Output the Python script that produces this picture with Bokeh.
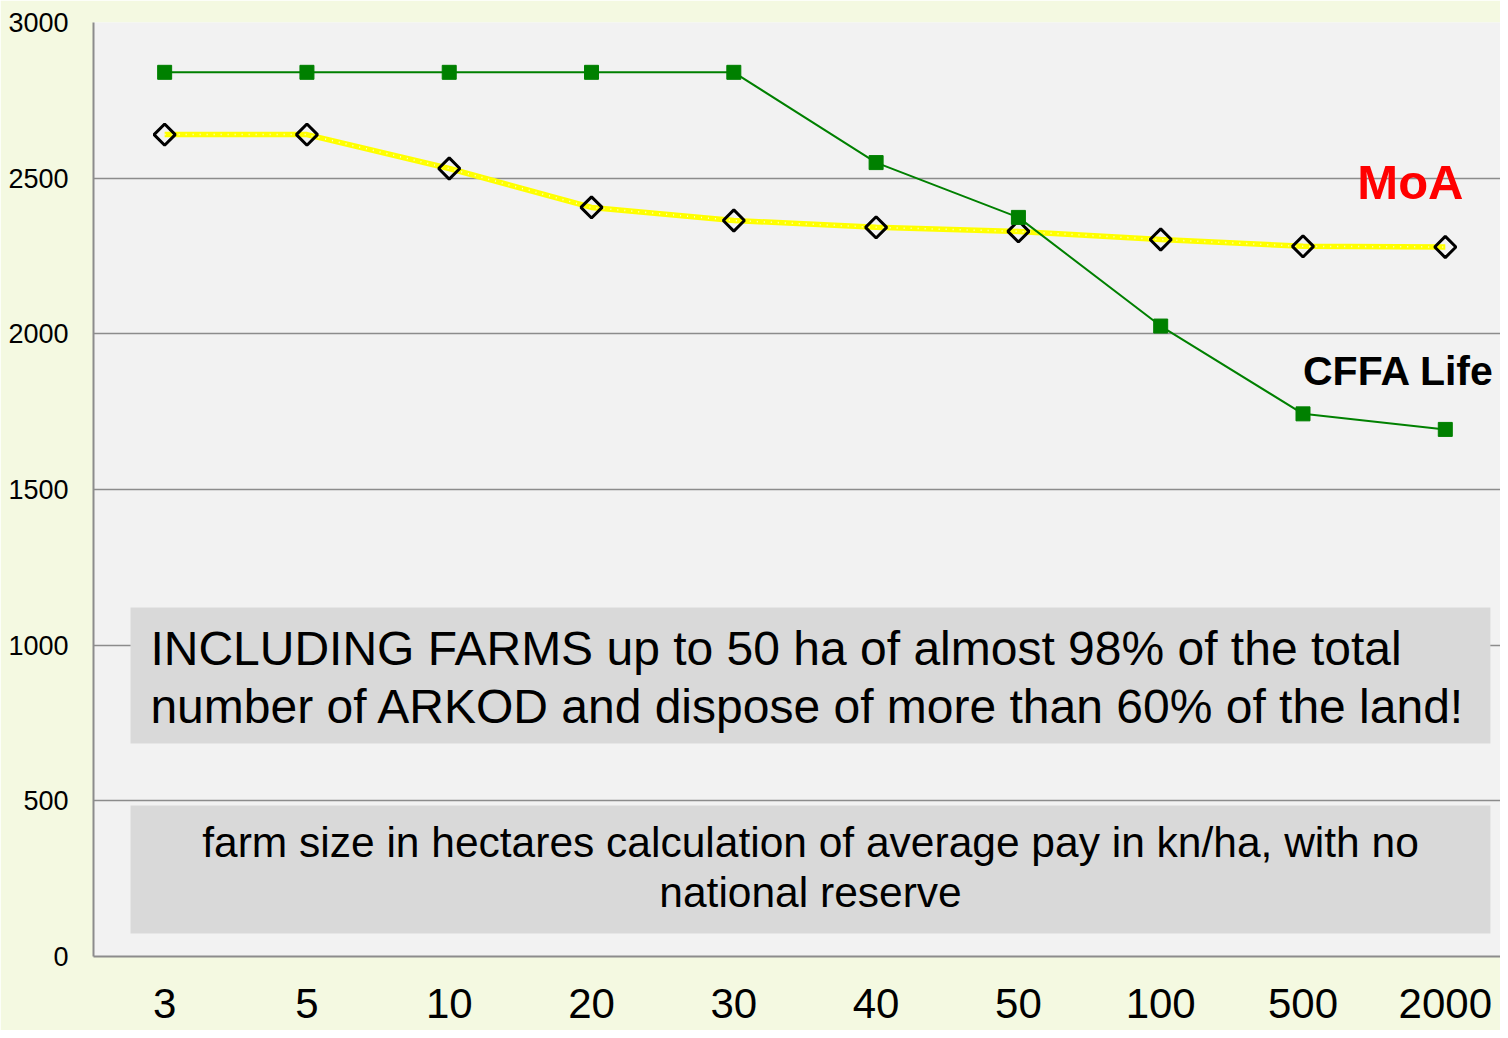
import math
from bokeh.plotting import figure
from bokeh.models import Range1d, FixedTicker, BoxAnnotation, Label, ColumnDataSource
from bokeh.embed import file_html
from bokeh.resources import INLINE

# ---- data ----
farm_sizes = ["3", "5", "10", "20", "30", "40", "50", "100", "500", "2000"]
cffa_values = [2840, 2840, 2840, 2840, 2840, 2550, 2374, 2025, 1743, 1693]   # green squares
moa_values = [2640, 2640, 2531, 2406, 2364, 2342, 2329, 2303, 2281, 2279]    # yellow line, diamonds
y_ticks = [0, 500, 1000, 1500, 2000, 2500, 3000]

idx = list(range(len(farm_sizes)))
src_g = ColumnDataSource(dict(x=idx, y=cffa_values))
src_y = ColumnDataSource(dict(x=idx, y=moa_values))

FONT = "Liberation Sans"

p = figure(width=1500, height=1030,
           x_range=Range1d(-0.5, 9.388), y_range=Range1d(0, 3000),
           output_backend="svg", toolbar_location=None,
           min_border_left=93, min_border_top=22, min_border_right=0, min_border_bottom=74)
p.border_fill_color = "#f4f9e1"
p.background_fill_color = "#f2f2f2"
p.outline_line_color = None

# axes
p.xaxis.ticker = FixedTicker(ticks=idx)
p.xaxis.major_label_overrides = {i: s for i, s in zip(idx, farm_sizes)}
p.xaxis.major_label_text_font = FONT
p.xaxis.major_label_text_font_size = "42px"
p.xaxis.major_label_text_color = "black"
p.xaxis.major_label_standoff = 32
p.xaxis.major_tick_out = 0
p.xaxis.major_tick_in = 0
p.xaxis.minor_tick_out = 0
p.xaxis.minor_tick_in = 0
p.xaxis.axis_line_color = "#8c8c8c"
p.xaxis.axis_line_width = 2

p.yaxis.ticker = FixedTicker(ticks=y_ticks)
p.yaxis.major_label_text_font = FONT
p.yaxis.major_label_text_font_size = "27px"
p.yaxis.major_label_text_color = "black"
p.yaxis.major_label_standoff = 25
p.yaxis.major_tick_out = 0
p.yaxis.major_tick_in = 0
p.yaxis.minor_tick_out = 0
p.yaxis.minor_tick_in = 0
p.yaxis.axis_line_color = "#8c8c8c"
p.yaxis.axis_line_width = 2

p.xgrid.grid_line_color = None
p.ygrid.grid_line_color = "#8c8c8c"
p.ygrid.grid_line_width = 1.5

# yellow (MoA) series
p.line("x", "y", source=src_y, line_color="#ffff00", line_width=5.5)
p.line("x", "y", source=src_y, line_color="white", line_width=1.5, line_dash="1 6", line_alpha=0.8)
p.scatter("x", "y", source=src_y, marker="square", angle=math.pi / 4, size=15,
          fill_color=None, line_color="black", line_width=3)

# green (CFFA) series
p.line("x", "y", source=src_g, line_color="#008000", line_width=2)
p.scatter("x", "y", source=src_g, marker="square", size=14,
          fill_color="#008000", line_color="#008000")

# text boxes
p.add_layout(BoxAnnotation(left=-0.24, right=9.317, bottom=684, top=1121,
                           fill_color="#d9d9d9", fill_alpha=1, line_color=None))
p.add_layout(BoxAnnotation(left=-0.24, right=9.317, bottom=74, top=485,
                           fill_color="#d9d9d9", fill_alpha=1, line_color=None))

def lab(x, y, text, size, color="black", bold=False, align="left"):
    p.add_layout(Label(x=x, y=y, text=text, text_font=FONT, text_font_size=size,
                       text_color=color, text_font_style="bold" if bold else "normal",
                       text_align=align, text_baseline="middle"))

lab(-0.1, 989, "INCLUDING FARMS up to 50 ha of almost 98% of the total", "48px")
lab(-0.1, 803, "number of ARKOD and dispose of more than 60% of the land!", "48px")
lab(4.539, 366, "farm size in hectares calculation of average pay in kn/ha, with no", "42.5px", align="center")
lab(4.539, 206, "national reserve", "42.5px", align="center")
lab(8.755, 2489, "MoA", "49px", color="#ff0000", bold=True, align="center")
lab(8.0, 1882, "CFFA Life", "41px", bold=True)

open("out.html", "w").write(file_html(p, INLINE))
